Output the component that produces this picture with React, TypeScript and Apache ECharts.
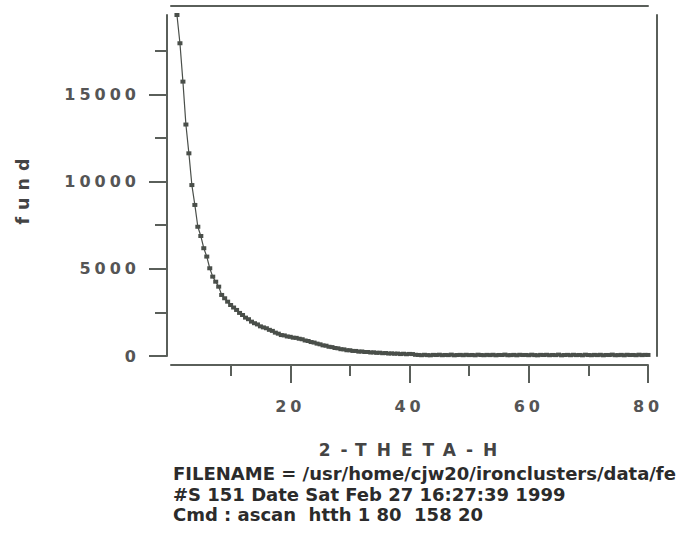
import React, { useEffect, useRef } from 'react';
import * as echarts from 'echarts';

// scan positions (2-THETA-H)
const xValues = [
  1, 1.5, 2, 2.5, 3, 3.5, 4, 4.5, 5, 5.5, 6, 6.5, 7, 7.5, 8, 8.5, 9, 9.5, 10, 10.5,
  11, 11.5, 12, 12.5, 13, 13.5, 14, 14.5, 15, 15.5, 16, 16.5, 17, 17.5, 18, 18.5, 19, 19.5, 20, 20.5,
  21, 21.5, 22, 22.5, 23, 23.5, 24, 24.5, 25, 25.5, 26, 26.5, 27, 27.5, 28, 28.5, 29, 29.5, 30, 30.5,
  31, 31.5, 32, 32.5, 33, 33.5, 34, 34.5, 35, 35.5, 36, 36.5, 37, 37.5, 38, 38.5, 39, 39.5, 40, 40.5,
  41, 41.5, 42, 42.5, 43, 43.5, 44, 44.5, 45, 45.5, 46, 46.5, 47, 47.5, 48, 48.5, 49, 49.5, 50, 50.5,
  51, 51.5, 52, 52.5, 53, 53.5, 54, 54.5, 55, 55.5, 56, 56.5, 57, 57.5, 58, 58.5, 59, 59.5, 60, 60.5,
  61, 61.5, 62, 62.5, 63, 63.5, 64, 64.5, 65, 65.5, 66, 66.5, 67, 67.5, 68, 68.5, 69, 69.5, 70, 70.5,
  71, 71.5, 72, 72.5, 73, 73.5, 74, 74.5, 75, 75.5, 76, 76.5, 77, 77.5, 78, 78.5, 79, 79.5, 80,
];

// "fund" counts
const fundValues = [
  19550, 17930, 15730, 13270, 11620, 9800, 8660, 7410, 6880, 6180, 5700, 5030, 4550, 4260, 3975, 3500, 3310, 3115, 2925, 2780,
  2640, 2470, 2350, 2200, 2110, 1970, 1880, 1810, 1700, 1640, 1590, 1500, 1440, 1340, 1280, 1200, 1180, 1120, 1100, 1050,
  1040, 990, 960, 890, 860, 800, 770, 710, 670, 610, 590, 530, 510, 460, 440, 390, 380, 330, 330, 290,
  290, 250, 260, 230, 230, 200, 210, 180, 190, 160, 170, 140, 150, 130, 140, 110, 130, 100, 120, 110,
  70, 60, 45, 70, 50, 40, 65, 55, 75, 45, 60, 50, 80, 40, 55, 65, 45, 70, 50, 60,
  40, 75, 55, 45, 65, 50, 70, 40, 60, 55, 80, 45, 50, 65, 40, 70, 55, 60, 45, 75,
  50, 40, 65, 55, 70, 45, 60, 50, 80, 40, 55, 65, 45, 70, 50, 60, 40, 75, 55, 45,
  65, 50, 70, 40, 60, 55, 80, 45, 50, 65, 40, 70, 55, 60, 45, 75, 50, 65, 60,
];

const xMajorTicks = [20, 40, 60, 80];
const xMinorTicks = [10, 30, 50, 70];
const yMajorTicks = [0, 5000, 10000, 15000];
const yMinorTicks = [2500, 7500, 12500, 17500];

const xAxisTitle = '2-THETA-H';
const yAxisTitle = 'fund';
const footerLines = [
  'FILENAME = /usr/home/cjw20/ironclusters/data/fe',
  '#S 151 Date Sat Feb 27 16:27:39 1999',
  'Cmd : ascan  htth 1 80  158 20',
];

const X_MIN = 0;
const X_MAX = 80;
const Y_MIN = 0;
const Y_MAX = 19550;

const AXIS_COLOR = '#5a5f5a';
const LABEL_COLOR = '#555555';

const css = `
#chart text[style*="16px"] { letter-spacing: 4px; }
#chart text[style*="17px"] { letter-spacing: 10px; }
#chart text[style*="17.5px"] { letter-spacing: 7px; }
`;

export default function App() {
  const ref = useRef<HTMLDivElement>(null);

  useEffect(() => {
    if (!ref.current) return;
    const chart = echarts.init(ref.current, null, { renderer: 'svg' });

    const seriesData = xValues.map((x, i) => [x, fundValues[i]]);

    const lineStyle = { color: AXIS_COLOR, width: 2 };
    const plain = (v: number) => String(v);

    const option: any = {
      animation: false,
      backgroundColor: '#ffffff',
      grid: { left: 171, right: 34, top: 15, bottom: 177, containLabel: false },
      xAxis: [
        {
          type: 'value',
          position: 'bottom',
          offset: 9,
          min: X_MIN,
          max: X_MAX,
          axisLine: { show: true, onZero: false, lineStyle },
          axisTick: { show: true, customValues: xMajorTicks, length: 18, lineStyle },
          axisLabel: {
            show: true,
            customValues: xMajorTicks,
            formatter: plain,
            margin: 33,
            color: LABEL_COLOR,
            fontFamily: 'DejaVu Sans',
            fontWeight: 'bold',
            fontSize: 16,
          },
          splitLine: { show: false },
        },
        {
          type: 'value',
          position: 'bottom',
          offset: 9,
          min: X_MIN,
          max: X_MAX,
          axisLine: { show: false, onZero: false },
          axisTick: { show: true, customValues: xMinorTicks, length: 11, lineStyle },
          axisLabel: { show: false },
          splitLine: { show: false },
        },
        {
          type: 'value',
          position: 'top',
          offset: 9,
          min: X_MIN,
          max: X_MAX,
          axisLine: { show: true, onZero: false, lineStyle },
          axisTick: { show: false },
          axisLabel: { show: false },
          splitLine: { show: false },
        },
      ],
      yAxis: [
        {
          type: 'value',
          position: 'left',
          offset: 4,
          min: Y_MIN,
          max: Y_MAX,
          axisLine: { show: true, onZero: false, lineStyle },
          axisTick: { show: true, customValues: yMajorTicks, length: 18, lineStyle },
          axisLabel: {
            show: true,
            customValues: yMajorTicks,
            formatter: plain,
            margin: 27,
            color: LABEL_COLOR,
            fontFamily: 'DejaVu Sans',
            fontWeight: 'bold',
            fontSize: 16,
          },
          splitLine: { show: false },
        },
        {
          type: 'value',
          position: 'left',
          offset: 4,
          min: Y_MIN,
          max: Y_MAX,
          axisLine: { show: false, onZero: false },
          axisTick: { show: true, customValues: yMinorTicks, length: 12, lineStyle },
          axisLabel: { show: false },
          splitLine: { show: false },
        },
        {
          type: 'value',
          position: 'right',
          offset: 9,
          min: Y_MIN,
          max: Y_MAX,
          axisLine: { show: true, onZero: false, lineStyle },
          axisTick: { show: false },
          axisLabel: { show: false },
          splitLine: { show: false },
        },
      ],
      series: [
        {
          type: 'line',
          xAxisIndex: 0,
          yAxisIndex: 0,
          data: seriesData,
          clip: false,
          symbol: 'rect',
          symbolSize: [5, 4],
          showSymbol: true,
          itemStyle: { color: '#4a4f4a' },
          lineStyle: { color: '#4a4f4a', width: 1.2 },
          emphasis: { disabled: true },
        },
      ],
      graphic: [
        {
          type: 'text',
          x: 413,
          y: 450,
          style: {
            text: xAxisTitle,
            fill: '#444444',
            font: 'bold 17px "DejaVu Sans"',
            align: 'center',
            verticalAlign: 'middle',
          },
        },
        {
          type: 'text',
          x: 23,
          y: 188,
          rotation: Math.PI / 2,
          style: {
            text: yAxisTitle,
            fill: '#444444',
            font: 'bold 17.5px "DejaVu Sans"',
            align: 'center',
            verticalAlign: 'middle',
          },
        },
        ...footerLines.map((t, i) => ({
          type: 'text',
          x: 173,
          y: [473, 494, 514][i],
          style: {
            text: t,
            fill: '#2b2b2b',
            font: 'bold 18px "DejaVu Sans"',
            align: 'left',
            verticalAlign: 'middle',
          },
        })),
      ],
    };

    chart.setOption(option);
    return () => chart.dispose();
  }, []);

  return (
    <>
      <style>{css}</style>
      <div
        id="chart"
        ref={ref}
        style={{ position: 'fixed', left: 0, top: 0, width: 682, height: 533, background: '#fff' }}
      />
    </>
  );
}
